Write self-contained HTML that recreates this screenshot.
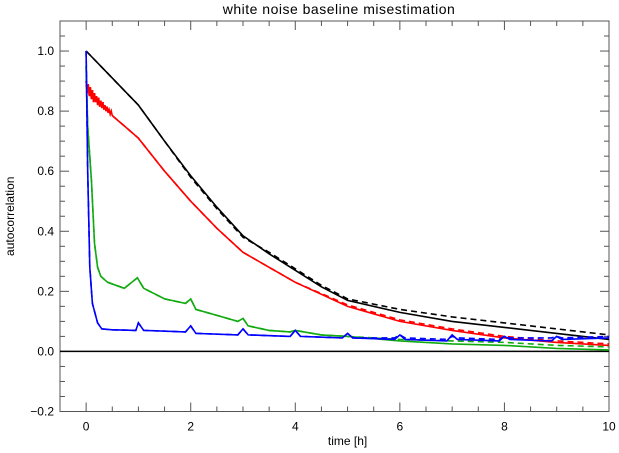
<!DOCTYPE html>
<html><head><meta charset="utf-8"><style>
body{margin:0;background:#fff}
svg{display:block;font-family:"Liberation Sans",sans-serif}
</style></head><body>
<svg id="c" width="619" height="453"></svg>
<script>
const xTicks=[0,2,4,6,8,10];
const yTicks=[-0.2,0,0.2,0.4,0.6,0.8,1.0];
const tBlack=[0,0.5,1,1.5,2,2.5,3,3.5,4,4.5,5,6,7,8,9,10];
const vBlack=[1.0,0.91,0.82,0.70,0.585,0.48,0.385,0.325,0.27,0.215,0.17,0.13,0.10,0.08,0.06,0.04];
const vBlackDash=[1.0,0.91,0.82,0.70,0.58,0.475,0.38,0.33,0.275,0.22,0.175,0.14,0.115,0.095,0.075,0.055];
const tRed=[0,0.02,0.04,0.06,0.08,0.1,0.12,0.14,0.16,0.18,0.2,0.22,0.24,0.26,0.28,0.3,0.32,0.34,0.36,0.38,0.4,0.42,0.44,0.46,0.48,0.5,0.6,0.8,1,1.5,2,2.5,3,3.5,4,5,6,7,8,9,10];
const vRed=[0.9,0.86,0.89,0.85,0.88,0.84,0.87,0.83,0.86,0.83,0.85,0.82,0.845,0.815,0.835,0.81,0.83,0.805,0.82,0.80,0.815,0.795,0.805,0.79,0.80,0.785,0.77,0.74,0.71,0.60,0.50,0.41,0.33,0.28,0.23,0.15,0.10,0.07,0.045,0.03,0.02];
const vRedDash=[0.9,0.86,0.89,0.85,0.88,0.84,0.87,0.83,0.86,0.83,0.85,0.82,0.845,0.815,0.835,0.81,0.83,0.805,0.82,0.80,0.815,0.795,0.805,0.79,0.80,0.785,0.77,0.74,0.71,0.60,0.50,0.41,0.33,0.28,0.23,0.155,0.105,0.075,0.05,0.035,0.025];
const tGreen=[0,0.03,0.1,0.16,0.22,0.28,0.41,0.73,0.98,1.1,1.5,1.9,2,2.1,2.5,2.9,3,3.1,3.5,3.9,4,4.5,5,6,7,8,9,10];
const vGreen=[0.95,0.75,0.57,0.36,0.28,0.25,0.23,0.21,0.245,0.21,0.175,0.16,0.175,0.14,0.12,0.10,0.11,0.085,0.07,0.065,0.07,0.055,0.05,0.035,0.025,0.02,0.01,0.005];
const vGreenDash=[0.95,0.75,0.57,0.36,0.28,0.25,0.23,0.21,0.245,0.21,0.175,0.16,0.175,0.14,0.12,0.10,0.11,0.085,0.07,0.065,0.07,0.055,0.05,0.04,0.035,0.03,0.02,0.015];
const tBlue=[0,0.03,0.07,0.12,0.22,0.3,0.5,0.95,1,1.1,1.9,2,2.1,2.9,3,3.1,3.9,4,4.1,4.9,5,5.1,5.9,6,6.1,6.9,7,7.1,7.9,8,8.1,8.9,9,9.1,10];
const vBlue=[1.0,0.6,0.28,0.16,0.095,0.075,0.072,0.07,0.095,0.07,0.065,0.085,0.06,0.055,0.075,0.055,0.05,0.07,0.05,0.045,0.06,0.045,0.04,0.055,0.04,0.035,0.055,0.04,0.035,0.05,0.04,0.035,0.05,0.04,0.045];
const vBlueDash=[1.0,0.6,0.28,0.16,0.095,0.075,0.072,0.07,0.095,0.07,0.065,0.085,0.06,0.055,0.075,0.055,0.05,0.07,0.05,0.045,0.06,0.045,0.045,0.055,0.045,0.04,0.05,0.045,0.04,0.05,0.045,0.045,0.05,0.045,0.05];

const L=60,R=609,T=21,B=411.5,X0=-0.5,X1=10,Y0=-0.2,Y1=1.1;
const sx=v=>L+(v-X0)/(X1-X0)*(R-L);
const sy=v=>B-(v-Y0)/(Y1-Y0)*(B-T);
const svg=document.getElementById('c');
const NS='http://www.w3.org/2000/svg';
function mk(tag,attrs,parent){const e=document.createElementNS(NS,tag);for(const k in attrs)e.setAttribute(k,attrs[k]);(parent||svg).appendChild(e);return e;}

let e=mk('text',{x:339,y:14,'text-anchor':'middle','font-size':14,'letter-spacing':'0.5'});e.textContent='white noise baseline misestimation';


e=mk('rect',{x:L,y:T,width:R-L,height:B-T,fill:'none',stroke:'#555','stroke-width':1});


for(let v=-0.5;v<=10.001;v+=0.5){
 const major=Math.abs(v/2-Math.round(v/2))<1e-6;const len=major?9:5;const x=sx(v);
 mk('line',{x1:x,x2:x,y1:B,y2:B-len,stroke:'#555'});mk('line',{x1:x,x2:x,y1:T,y2:T+len,stroke:'#555'});
}
xTicks.forEach(v=>{const t=mk('text',{x:sx(v),y:B+19,'text-anchor':'middle','font-size':12});t.textContent=String(v);
 
 });
for(let i=0;i<=26;i++){const v=-0.2+i*0.05;const major=i%4===0;const len=major?9:5;const y=sy(v);
 mk('line',{x1:L,x2:L+len,y1:y,y2:y,stroke:'#555'});mk('line',{x1:R,x2:R-len,y1:y,y2:y,stroke:'#555'});}
yTicks.forEach(v=>{const t=mk('text',{x:L-6,y:sy(v)+4,'text-anchor':'end','font-size':12});t.textContent=(v<0?'\u22120.2':v.toFixed(1));
 
 });
e=mk('text',{x:sx(5),y:445,'text-anchor':'middle','font-size':12});e.textContent='time [h]';


e=mk('text',{x:0,y:0,'text-anchor':'middle','font-size':12,transform:`translate(14,${(T+B)/2}) rotate(-90)`});e.textContent='autocorrelation';


e=mk('line',{x1:L,x2:R,y1:sy(0),y2:sy(0),stroke:'#000','stroke-width':1.5});


function line(ts,vs,color,dash,name){
 const d=ts.map((t,i)=>(i?'L':'M')+sx(t).toFixed(1)+','+sy(vs[i]).toFixed(1)).join('');
 const p=mk('path',{d:d,fill:'none',stroke:color,'stroke-width':1.6});
 if(dash)p.setAttribute('stroke-dasharray','6,4');
 
 
}
line(tBlack,vBlackDash,'#000',true,'black-dashed-series');
line(tBlack,vBlack,'#000',false,'black-series');
line(tRed,vRedDash,'#f00',true,'red-dashed-series');
line(tRed,vRed,'#f00',false,'red-series');
line(tGreen,vGreenDash,'#1a1',true,'green-dashed-series');
line(tGreen,vGreen,'#1a1',false,'green-series');
line(tBlue,vBlueDash,'#00f',true,'blue-dashed-series');
line(tBlue,vBlue,'#00f',false,'blue-series');
</script>
</body></html>
